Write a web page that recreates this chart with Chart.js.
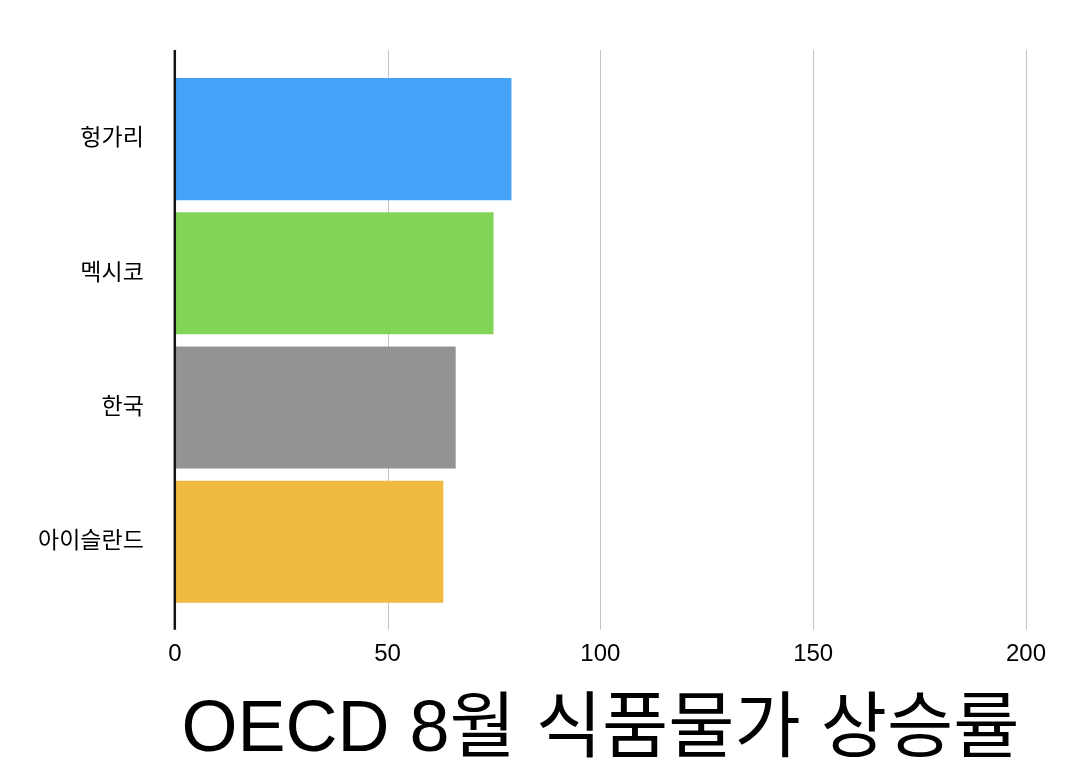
<!DOCTYPE html>
<html>
<head>
<meta charset="utf-8">
<script src="https://cdn.jsdelivr.net/npm/chart.js@4"></script>
<style>
  html, body { margin: 0; padding: 0; background: #fff; }
  #wrap { width: 1070px; height: 772px; }
</style>
</head>
<body>
<div id="wrap"><canvas id="foodChart"></canvas></div>
<script>
const countries = ['헝가리', '멕시코', '한국', '아이슬란드'];
const foodInflation = [79.1, 74.9, 66.0, 63.1];
const barColors = ['#44a2f8', '#82d457', '#939393', '#f0ba42'];
const xTicks = [0, 50, 100, 150, 200];
const chartTitle = 'OECD 8월 식품물가 상승률';

const FONT = '"Liberation Sans", "Noto Sans CJK KR", sans-serif';

// grid lines and the axis stick out past the bars a bit
const longLines = {
    id: 'longLines',
    beforeDatasetsDraw(chart) {
        const { ctx, chartArea, scales } = chart;
        ctx.save();
        ctx.strokeStyle = '#c4c4c4';
        ctx.lineWidth = 1;
        xTicks.slice(1).forEach(v => {
            const x = Math.round(scales.x.getPixelForValue(v)) + 0.5;
            ctx.beginPath();
            ctx.moveTo(x, chartArea.top - 22);
            ctx.lineTo(x, chartArea.bottom + 21);
            ctx.stroke();
        });
        ctx.restore();
    },
    afterDatasetsDraw(chart) {
        const { ctx, chartArea, scales } = chart;
        const x = scales.x.getPixelForValue(0);
        ctx.save();
        ctx.strokeStyle = '#151515';
        ctx.lineWidth = 2.5;
        ctx.beginPath();
        ctx.moveTo(x, chartArea.top - 22);
        ctx.lineTo(x, chartArea.bottom + 21);
        ctx.stroke();
        ctx.restore();
    }
};

const ctx = document.getElementById('foodChart').getContext('2d');
new Chart(ctx, {
    type: 'bar',
    data: {
        labels: countries,
        datasets: [{
            data: foodInflation,
            backgroundColor: barColors,
            borderWidth: 0,
            barPercentage: 0.91,
            categoryPercentage: 1
        }]
    },
    options: {
        indexAxis: 'y',
        responsive: true,
        maintainAspectRatio: false,
        animation: false,
        layout: { padding: { top: 72, right: 9, left: 7, bottom: 0 } },
        scales: {
            x: {
                min: 0,
                max: 200,
                afterBuildTicks: axis => { axis.ticks = xTicks.map(v => ({ value: v })); },
                grid: { display: true, color: 'transparent', drawTicks: true, tickLength: 7 },
                border: { display: false },
                ticks: { color: '#000', font: { family: FONT, size: 24 }, padding: 24 },
                title: {
                    display: true,
                    text: chartTitle,
                    color: '#000',
                    font: { family: FONT, size: 72, weight: 'normal' },
                    padding: { top: -5, bottom: -2 }
                }
            },
            y: {
                grid: { display: false, drawTicks: false },
                border: { display: false },
                ticks: { color: '#000', font: { family: FONT, size: 23 }, padding: 31 }
            }
        },
        plugins: {
            legend: { display: false },
            tooltip: { enabled: false }
        }
    },
    plugins: [longLines]
});
</script>
</body>
</html>
